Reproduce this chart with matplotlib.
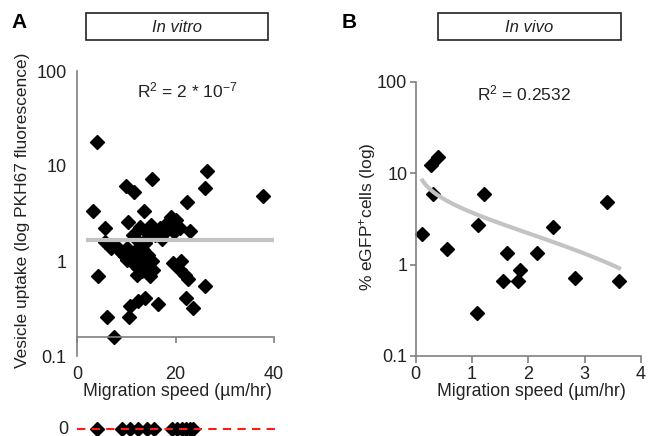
import numpy as np
import matplotlib
matplotlib.use("Agg")
import matplotlib.pyplot as plt
import matplotlib.patches as pat
from matplotlib.ticker import FixedLocator, NullLocator

plt.rcParams['font.family'] = ['Liberation Sans', 'DejaVu Sans']
plt.rcParams['mathtext.fontset'] = 'custom'
plt.rcParams['mathtext.rm'] = 'Liberation Sans'
plt.rcParams['mathtext.it'] = 'Liberation Sans:italic'

# Panel A - in vitro (speed in um/hr, uptake as PKH67 fluorescence)
vitro_speed = [4.0, 26.4, 15.3, 9.9, 11.6, 26.0, 37.8, 22.4, 3.3, 13.6,
               10.3, 5.7, 12.8, 15.0, 16.8, 18.2, 20.2, 20.9, 22.9, 17.2, 11.4, 19.0, 17.8, 14.0,
               5.7, 7.0, 8.7, 10.1, 9.7, 11.1, 11.4, 12.8, 13.4, 14.5, 14.5, 15.5, 12.1, 14.8, 10.1, 13.8, 12.1,
               8.0, 9.2, 10.6, 11.9, 12.3, 13.0, 13.9, 15.2, 13.2, 15.8, 16.2, 14.6, 18.8, 19.6,
               4.3, 19.5, 21.2, 20.9, 21.9, 22.6, 26.0,
               13.8, 12.4, 10.8, 16.5, 22.2, 23.6, 6.1, 10.6, 7.5]
vitro_uptake = [17.9, 8.8, 7.3, 6.2, 5.3, 5.9, 4.8, 4.2, 3.4, 3.4,
                2.6, 2.2, 2.3, 2.4, 2.2, 2.5, 2.7, 2.2, 2.05, 1.7, 1.9, 2.9, 2.0, 2.0,
                1.6, 1.37, 1.26, 1.37, 1.12, 1.21, 0.95, 1.08, 1.32, 1.16, 0.91, 0.81, 0.72, 0.69, 1.03, 1.55, 1.68,
                1.45, 1.2, 1.15, 1.3, 0.85, 0.95, 1.0, 1.0, 0.78, 1.9, 2.0, 1.8, 2.3, 2.0,
                0.7, 0.95, 1.0, 0.81, 0.72, 0.64, 0.55,
                0.41, 0.38, 0.34, 0.35, 0.41, 0.32, 0.26, 0.26, 0.157]
vitro_zero_speed = [4.1, 9.0, 10.8, 12.4, 14.1, 15.6, 19.2, 20.2, 21.2, 22.0, 22.8, 23.4]
vitro_trend_level = 1.65
vitro_trend_range = [2.3, 40]
vitro_r2 = r"R$^{2}$ = 2 * 10$^{-7}$"

# Panel B - in vivo (speed in um/hr, % eGFP+ cells)
vivo_speed = [0.12, 0.28, 0.40, 0.31, 0.56, 1.08, 1.11, 1.22, 1.55, 1.62,
              1.81, 1.85, 2.15, 2.43, 2.83, 3.39, 3.61]
vivo_egfp = [2.14, 12.2, 15.1, 6.0, 1.49, 0.295, 2.75, 5.98, 0.66, 1.34,
             0.66, 0.88, 1.33, 2.57, 0.71, 4.84, 0.66]
vivo_r2 = r"R$^{2}$ = 0.2532"

log_ticks = [0.1, 1, 10, 100]
log_labels = ["0.1", "1", "10", "100"]

W, H = 648, 436
spine_col = '#808080'
trend_col = '#c3c3c3'
text_col = '#222222'


def fx(px):
    return px / W


def fy(py):
    return (H - py) / H


def style_axes(ax):
    for s in ['top', 'right']:
        ax.spines[s].set_visible(False)
    for s in ['left', 'bottom']:
        ax.spines[s].set_color(spine_col)
        ax.spines[s].set_linewidth(1.2)
    ax.set_yscale('log')
    ax.set_ylim(0.1, 100)
    ax.yaxis.set_major_locator(FixedLocator(log_ticks))
    ax.set_yticklabels(log_labels)
    ax.yaxis.set_minor_locator(NullLocator())
    ax.tick_params(colors=spine_col, labelcolor=text_col, labelsize=13, width=1.2)


fig = plt.figure(figsize=(6.48, 4.36), dpi=100)

# ---- panel A ----
axA = fig.add_axes([fx(77), fy(356), fx(274) - fx(77), fy(71) - fy(356)])
style_axes(axA)
axA.set_xlim(0, 40)
axA.set_xticks([0, 20, 40])
axA.spines['bottom'].set_position(('data', 0.16))
axA.tick_params(axis='y', length=0, pad=7.5)
axA.tick_params(axis='x', length=4, pad=17)
axA.plot(vitro_speed, vitro_uptake, 'D', color='black', markersize=7.5, zorder=2, clip_on=False)
axA.plot(vitro_trend_range, [vitro_trend_level] * 2, color=trend_col, lw=3, zorder=3)
axA.text(0.56, 0.93, vitro_r2, transform=axA.transAxes, ha='center', va='center',
         fontsize=12.5, color=text_col)

# zero-uptake strip below panel A
axZ = fig.add_axes([fx(77), 0, fx(275) - fx(77), 20 / H])
axZ.set_xlim(0, 40)
axZ.set_ylim(-7, 13)
axZ.axis('off')
axZ.plot(vitro_zero_speed, [0] * len(vitro_zero_speed), 'D', color='black',
         markersize=7.5, zorder=2, clip_on=False)
axZ.plot([0, 40], [0, 0], ls='--', color='#ff1a1a', lw=1.5, dashes=(4, 3), zorder=3)
fig.text(fx(68), fy(429), "0", ha='right', va='center', fontsize=13, color=text_col)

# ---- panel B ----
axB = fig.add_axes([fx(415.7), fy(356), fx(641) - fx(415.7), fy(82) - fy(356)])
style_axes(axB)
axB.set_xlim(0, 4)
axB.set_xticks([0, 1, 2, 3, 4])
axB.tick_params(axis='y', length=4, pad=2)
axB.tick_params(axis='x', length=5, pad=2.5)
axB.plot(vivo_speed, vivo_egfp, 'D', color='black', markersize=7.5, zorder=2, clip_on=False)
# logarithmic trendline fitted to the data
coef = np.polyfit(np.log(vivo_speed), vivo_egfp, 1)
xs = np.linspace(min(vivo_speed), max(vivo_speed), 100)
axB.plot(xs, coef[0] * np.log(xs) + coef[1], color=trend_col, lw=3, zorder=3)
axB.text(0.48, 0.96, vivo_r2, transform=axB.transAxes, ha='center', va='center',
         fontsize=12.5, color=text_col)

# axis labels
fig.text(fx(23), fy(210), "Vesicle uptake (log PKH67 fluorescence)", rotation=90,
         ha='center', va='center', fontsize=12.5, color=text_col)
fig.text(fx(368), fy(217), "% eGFP$^{+}$cells (log)", rotation=90,
         ha='center', va='center', fontsize=12.5, color=text_col)
fig.text(fx(177), fy(391), "Migration speed (µm/hr)", ha='center', va='center',
         fontsize=12.8, color=text_col)
fig.text(fx(531), fy(391), "Migration speed (µm/hr)", ha='center', va='center',
         fontsize=12.8, color=text_col)

# panel letters and condition boxes
fig.text(fx(19), fy(22), "A", ha='center', va='center', fontsize=15, fontweight='bold')
fig.text(fx(349), fy(22), "B", ha='center', va='center', fontsize=15, fontweight='bold')
for x0, x1, name in [(86, 268, "In vitro"), (438, 621, "In vivo")]:
    fig.patches.append(pat.Rectangle((fx(x0), fy(40)), fx(x1) - fx(x0), fy(13) - fy(40),
                                     transform=fig.transFigure, fill=False,
                                     edgecolor=text_col, lw=1.2))
    fig.text(fx((x0 + x1) / 2), fy(27), name, ha='center', va='center',
             fontsize=12, style='italic', color=text_col)

fig.savefig("out.png", dpi=100)
